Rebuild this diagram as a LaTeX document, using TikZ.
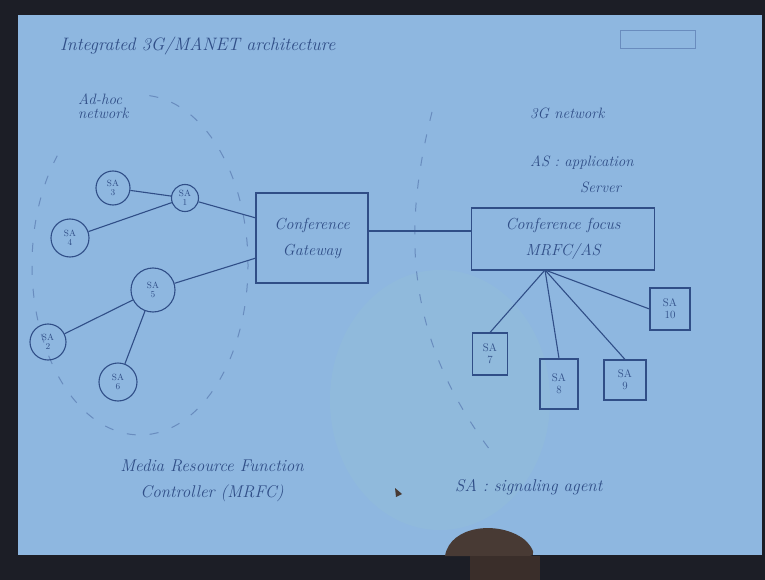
\documentclass[tikz,border=0pt]{standalone}
\usepackage{fontspec}
\usetikzlibrary{shapes.geometric}
\definecolor{framec}{RGB}{28,30,38}
\definecolor{slidec}{RGB}{142,183,224}
\definecolor{inkc}{RGB}{48,78,135}
\definecolor{faintc}{RGB}{105,140,190}
\definecolor{handc}{RGB}{72,58,52}
\definecolor{glarec}{RGB}{150,195,212}
\begin{document}
\begin{tikzpicture}[x=1pt,y=-1pt,
  ink/.style={draw=inkc, line width=1.1pt},
  hand/.style={text=inkc, font=\fontsize{15}{17}\selectfont\itshape, inner sep=0pt, align=center},
  sacirc/.style={circle, draw=inkc, line width=1.1pt, text=inkc, inner sep=0pt, align=center, font=\fontsize{9}{9}\selectfont},
  sabox/.style={rectangle, draw=inkc, line width=1.1pt, text=inkc, inner sep=0pt, align=center, font=\fontsize{11}{12}\selectfont},
  bigbox/.style={rectangle, draw=inkc, line width=1.1pt, text=inkc, inner sep=0pt, align=center, font=\fontsize{16}{26}\selectfont\itshape},
  faintdash/.style={draw=faintc, line width=1pt, dash pattern=on 9pt off 14pt}]
\useasboundingbox (0,0) rectangle (765,580);
\fill[framec] (0,0) rectangle (765,580);
\fill[slidec] (18,15) rectangle (762,555);
% glare and hand
\fill[glarec, opacity=0.3] (440,400) ellipse [x radius=110, y radius=130];
\fill[handc] (445,556) .. controls (450,525) and (500,520) .. (525,540) .. controls (535,550) and (535,556) .. (530,556) -- cycle;
\fill[handc!80!black] (470,580) rectangle (540,556);
\fill[handc] (395,488) -- (402,494) -- (396,497) -- cycle;
% logo box
\draw[faintc, line width=0.8pt] (620,30) rectangle (695,48);
% faint separators
\draw[faintdash] (140,265) ++(275:108 and 170) arc[start angle=275, end angle=580, x radius=108, y radius=170];
\draw[faintdash] (432,112) .. controls (405,220) and (400,330) .. (490,450);
% titles
\node[hand, anchor=west, font=\fontsize{18}{20}\selectfont\itshape] (title) at (60,46) {Integrated 3G/MANET architecture};
\node[hand, anchor=north west, align=left] (adhoc) at (78,94) {Ad-hoc\\[-3pt]network};
\node[hand, anchor=west] (tg) at (530,113) {3G network};
\node[hand, anchor=west] (as) at (530,163) {AS : application};
\node[hand, anchor=west] (srv) at (580,187) {Server};
% boxes
\node[bigbox, minimum width=112pt, minimum height=90pt] (gw) at (312,238) {Conference\\Gateway};
\node[bigbox, minimum width=183pt, minimum height=62pt] (focus) at (563,239) {Conference focus\\MRFC/AS};
% circles
\node[sacirc, minimum size=34pt] (sa3) at (113,188) {SA\\3};
\node[sacirc, minimum size=27pt] (sa1) at (185,198) {SA\\1};
\node[sacirc, minimum size=38pt] (sa4) at (70,238) {SA\\4};
\node[sacirc, minimum size=44pt] (sa5) at (153,290) {SA\\5};
\node[sacirc, minimum size=36pt] (sa2) at (48,342) {SA\\2};
\node[sacirc, minimum size=38pt] (sa6) at (118,382) {SA\\6};
% right boxes
\node[sabox, minimum width=35pt, minimum height=42pt] (sa7) at (490,354) {SA\\7};
\node[sabox, minimum width=38pt, minimum height=50pt] (sa8) at (559,384) {SA\\8};
\node[sabox, minimum width=42pt, minimum height=40pt] (sa9) at (625,380) {SA\\9};
\node[sabox, minimum width=40pt, minimum height=42pt] (sa10) at (670,309) {SA\\10};
% connectors
\coordinate (gwA) at (256,218);
\coordinate (gwB) at (256,258);
\coordinate (fan) at (545,270);
\draw[ink] (sa3) -- (sa1);
\draw[ink] (sa4) -- (sa1);
\draw[ink] (sa1) -- (gwA);
\draw[ink] (sa5) -- (gwB);
\draw[ink] (sa5) -- (sa2);
\draw[ink] (sa5) -- (sa6);
\draw[ink] (gw.east |- 0,231) -- (focus.west |- 0,231);
\draw[ink] (fan) -- (sa7.north);
\draw[ink] (fan) -- (sa8.north);
\draw[ink] (fan) -- (sa9.north);
\draw[ink] (fan) -- (sa10.west);
% bottom notes
\node[hand, font=\fontsize{17}{26}\selectfont\itshape] (mrfc) at (212,481) {Media Resource Function\\Controller (MRFC)};
\node[hand, anchor=west, font=\fontsize{17}{20}\selectfont\itshape] (sa) at (455,487) {SA : signaling agent};
\end{tikzpicture}
\end{document}
